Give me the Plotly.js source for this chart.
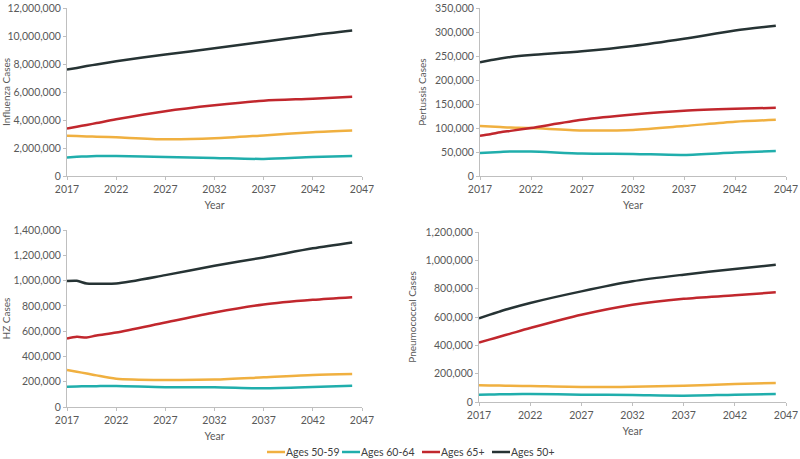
<!DOCTYPE html>
<html>
<head>
<meta charset="utf-8">
<script src="https://cdn.plot.ly/plotly-3.0.1.min.js"></script>
<style>html,body{margin:0;padding:0;background:#fff;}#chart{width:800px;height:459px;}</style>
</head>
<body>
<div id="chart"></div>
<script>
// Years read at key points (data drawn through 2046)
const years = [2017, 2018, 2019, 2020, 2022, 2027, 2032, 2037, 2042, 2046];
const seriesNames = ["Ages 50-59", "Ages 60-64", "Ages 65+", "Ages 50+"];

// Influenza cases
const flu5059 = [2880000, 2860000, 2830000, 2810000, 2760000, 2620000, 2690000, 2900000, 3130000, 3250000];
const flu6064 = [1330000, 1370000, 1400000, 1420000, 1430000, 1360000, 1290000, 1220000, 1360000, 1430000];
const flu65   = [3390000, 3520000, 3650000, 3780000, 4050000, 4630000, 5050000, 5380000, 5520000, 5660000];
const flu50   = [7600000, 7720000, 7850000, 7970000, 8190000, 8680000, 9120000, 9590000, 10060000, 10390000];

// Pertussis cases
const per5059 = [104000, 103000, 102000, 101000, 100000, 95000, 96000, 104000, 113000, 117000];
const per6064 = [48000, 49000, 50000, 51000, 51000, 47000, 46000, 44000, 49000, 52000];
const per65   = [84000, 87000, 91000, 94000, 100000, 117000, 128000, 136000, 140000, 142000];
const per50   = [237000, 241000, 245000, 248000, 252000, 260000, 271000, 286000, 303000, 313000];

// HZ cases
const hz5059 = [293000, 279000, 265000, 250000, 224000, 214000, 217000, 235000, 254000, 261000];
const hz6064 = [161000, 163000, 164000, 165000, 166000, 156000, 156000, 148000, 158000, 169000];
const hz65   = [541000, 555000, 549000, 566000, 589000, 668000, 747000, 811000, 848000, 869000];
const hz50   = [996000, 998000, 977000, 975000, 977000, 1043000, 1117000, 1183000, 1255000, 1302000];

// Pneumococcal cases
const pn5059 = [118000, 117000, 116000, 115000, 113000, 106000, 108000, 115000, 127000, 134000];
const pn6064 = [52000, 53000, 54000, 55000, 56000, 52000, 49000, 45000, 52000, 56000];
const pn65   = [419000, 440000, 461000, 481000, 522000, 616000, 687000, 729000, 753000, 774000];
const pn50   = [591000, 615000, 638000, 660000, 699000, 781000, 852000, 899000, 939000, 969000];

const colors = ["#F0B040", "#20AEAC", "#C1272D", "#263334"];
const panels = [
  {data: [flu5059, flu6064, flu65, flu50], title: "Influenza Cases", range: [0, 12000000], dtick: 2000000},
  {data: [per5059, per6064, per65, per50], title: "Pertussis Cases", range: [0, 350000], dtick: 50000},
  {data: [hz5059, hz6064, hz65, hz50], title: "HZ Cases", range: [0, 1400000], dtick: 200000},
  {data: [pn5059, pn6064, pn65, pn50], title: "Pneumococcal Cases", range: [0, 1200000], dtick: 200000}
];

const xDomains = [[67/800, 362/800], [480/800, 786/800], [67/800, 362/800], [479/800, 786/800]];
const yDomains = [[1-176/459, 1-8/459], [1-176/459, 1-8/459], [1-407/459, 1-230/459], [1-402/459, 1-232/459]];

// Legend layout (pixel positions of each entry's line start)
const legendStartsPx = [267, 342, 422, 492];
const legendLineLenPx = 18;
const legendYPx = 452;

const FONT = "Lato, 'Liberation Sans', sans-serif";
const traces = [];
const shapes = [];
const annotations = [];
const layout = {
  width: 800, height: 459,
  margin: {l: 0, r: 0, t: 0, b: 0},
  paper_bgcolor: "#ffffff", plot_bgcolor: "#ffffff",
  font: {family: FONT, color: "#595959", size: 10},
  showlegend: false,
  shapes: shapes, annotations: annotations
};

panels.forEach((p, i) => {
  const n = i + 1;
  const xa = n === 1 ? "x" : "x" + n;
  const ya = n === 1 ? "y" : "y" + n;
  p.data.forEach((vals, k) => {
    traces.push({
      x: years, y: vals, type: "scatter", mode: "lines",
      name: seriesNames[k], legendgroup: seriesNames[k], showlegend: false,
      line: {color: colors[k], width: 2.5, shape: "spline", smoothing: 0.8},
      xaxis: xa, yaxis: ya, hoverinfo: "x+y"
    });
  });
  layout["xaxis" + (n === 1 ? "" : n)] = {
    domain: xDomains[i], anchor: ya, range: [2017, 2047], dtick: 5, tick0: 2017,
    showgrid: false, zeroline: false, showline: true, linecolor: "#BFBFBF", linewidth: 1,
    ticks: "outside", ticklen: 3, tickcolor: "#BFBFBF",
    tickfont: {family: FONT, size: 10.5, color: "#595959"},
    title: {text: "Year", font: {family: FONT, size: 10.5, color: "#595959"}, standoff: 8}
  };
  layout["yaxis" + (n === 1 ? "" : n)] = {
    domain: yDomains[i], anchor: xa, range: p.range, dtick: p.dtick,
    tickformat: ",d", showgrid: false, zeroline: false, showline: true, linecolor: "#BFBFBF", linewidth: 1,
    ticks: "outside", ticklen: 3, tickcolor: "#BFBFBF",
    tickfont: {family: FONT, size: 10.5, color: "#595959"},
    title: {text: p.title, font: {family: FONT, size: 10, color: "#595959"}, standoff: 6}
  };
});

// Custom legend built from series names and colours
seriesNames.forEach((name, k) => {
  const x0 = legendStartsPx[k] / 800;
  const x1 = (legendStartsPx[k] + legendLineLenPx) / 800;
  const y = 1 - legendYPx / 459;
  shapes.push({type: "line", xref: "paper", yref: "paper", x0: x0, x1: x1, y0: y, y1: y,
               line: {color: colors[k], width: 2.5}});
  annotations.push({xref: "paper", yref: "paper", x: x1, y: y, xanchor: "left", yanchor: "middle",
                    text: name, showarrow: false, xshift: -1,
                    font: {family: FONT, size: 10.5, color: "#404040"}});
});

Plotly.newPlot("chart", traces, layout, {displayModeBar: false, staticPlot: true});
</script>
</body>
</html>
